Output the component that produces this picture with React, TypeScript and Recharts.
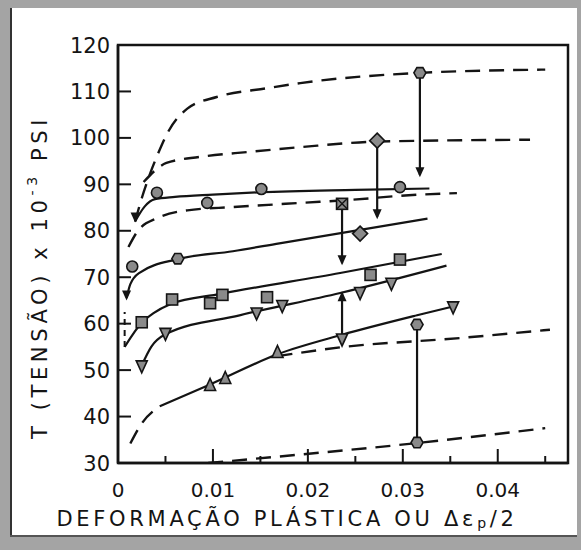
import React from "react";
import { ComposedChart, Line, Scatter, XAxis, YAxis, ReferenceArea } from "recharts";

type Pt = { x: number; y: number };

const xTicks = [0, 0.005, 0.01, 0.015, 0.02, 0.025, 0.03, 0.035, 0.04, 0.045];
const yTicks = [30, 40, 50, 60, 70, 80, 90, 100, 110, 120];

// curves (monotonic = dashed, cyclic = solid)
const topDashed: Pt[] = [
  { x: 0.0018, y: 82 }, { x: 0.0025, y: 87 }, { x: 0.0034, y: 92.4 }, { x: 0.0043, y: 97 },
  { x: 0.0052, y: 101 }, { x: 0.0073, y: 106.3 }, { x: 0.0104, y: 108.8 }, { x: 0.0157, y: 110.7 },
  { x: 0.0192, y: 111.8 }, { x: 0.0318, y: 114 }, { x: 0.045, y: 114.7 },
];
const secondDashed: Pt[] = [
  { x: 0.0027, y: 90.5 }, { x: 0.0051, y: 94.6 }, { x: 0.0086, y: 95.9 }, { x: 0.0139, y: 97 },
  { x: 0.0192, y: 98 }, { x: 0.0273, y: 99.2 }, { x: 0.0434, y: 99.6 },
];
const circleSolid: Pt[] = [
  { x: 0.0018, y: 82 }, { x: 0.0028, y: 85.2 }, { x: 0.0039, y: 86.8 }, { x: 0.006, y: 87.3 },
  { x: 0.01, y: 87.8 }, { x: 0.015, y: 88.3 }, { x: 0.025, y: 88.8 }, { x: 0.0328, y: 89.1 },
];
const thirdDashed: Pt[] = [
  { x: 0.0011, y: 76.5 }, { x: 0.0021, y: 80 }, { x: 0.0041, y: 82.7 }, { x: 0.0073, y: 84.4 },
  { x: 0.0121, y: 85.1 }, { x: 0.0192, y: 86 }, { x: 0.0241, y: 86.6 }, { x: 0.031, y: 87.7 },
  { x: 0.0357, y: 88.1 },
];
const hexSolid: Pt[] = [
  { x: 0.0009, y: 65.5 }, { x: 0.0013, y: 68.5 }, { x: 0.0023, y: 71 }, { x: 0.0063, y: 73.9 },
  { x: 0.0121, y: 75.6 }, { x: 0.017, y: 77.3 }, { x: 0.0326, y: 82.6 },
];
const squareSolid: Pt[] = [
  { x: 0.0007, y: 55 }, { x: 0.0025, y: 60.2 }, { x: 0.0037, y: 62.2 }, { x: 0.0055, y: 64.2 },
  { x: 0.0108, y: 66.4 }, { x: 0.0234, y: 70.9 }, { x: 0.0341, y: 75 },
];
const downSolid: Pt[] = [
  { x: 0.0025, y: 51 }, { x: 0.0035, y: 55 }, { x: 0.005, y: 57.7 }, { x: 0.0128, y: 61.8 },
  { x: 0.0234, y: 66.6 }, { x: 0.0346, y: 72.5 },
];
const upDashedStart: Pt[] = [{ x: 0.0013, y: 34.2 }, { x: 0.0025, y: 38.5 }, { x: 0.0044, y: 42.2 }];
const upSolid: Pt[] = [
  { x: 0.0044, y: 42.2 }, { x: 0.0097, y: 46.9 }, { x: 0.0168, y: 53.4 }, { x: 0.0236, y: 57.6 },
  { x: 0.0315, y: 61.8 }, { x: 0.0353, y: 63.7 },
];
const fourthDashed: Pt[] = [{ x: 0.0168, y: 53 }, { x: 0.0234, y: 54.9 }, { x: 0.036, y: 56.9 }, { x: 0.0455, y: 58.7 }];
const bottomDashed: Pt[] = [{ x: 0.0095, y: 30 }, { x: 0.017, y: 31.4 }, { x: 0.0315, y: 34.3 }, { x: 0.045, y: 37.5 }];
const originDash: Pt[] = [{ x: 0.0007, y: 55 }, { x: 0.0007, y: 62.5 }];

// vertical transition lines
const verticals: Pt[][] = [
  [{ x: 0.0318, y: 114 }, { x: 0.0318, y: 92 }],
  [{ x: 0.0273, y: 99.2 }, { x: 0.0273, y: 83 }],
  [{ x: 0.0236, y: 85.8 }, { x: 0.0236, y: 73 }],
  [{ x: 0.0236, y: 56.6 }, { x: 0.0236, y: 66.5 }],
  [{ x: 0.0315, y: 34.3 }, { x: 0.0315, y: 60 }],
];

// markers
const circles: Pt[] = [
  { x: 0.0015, y: 72.3 }, { x: 0.0041, y: 88.2 }, { x: 0.0094, y: 86 }, { x: 0.0151, y: 89 }, { x: 0.0297, y: 89.4 },
];
const hexes: Pt[] = [{ x: 0.0063, y: 74 }, { x: 0.0318, y: 114 }, { x: 0.0315, y: 59.8 }, { x: 0.0315, y: 34.4 }];
const diamonds: Pt[] = [{ x: 0.0273, y: 99.4 }, { x: 0.0255, y: 79.4 }];
const squares: Pt[] = [
  { x: 0.0025, y: 60.3 }, { x: 0.0057, y: 65.2 }, { x: 0.0097, y: 64.4 }, { x: 0.011, y: 66.2 },
  { x: 0.0157, y: 65.7 }, { x: 0.0266, y: 70.5 }, { x: 0.0297, y: 73.8 },
];
const crossSquares: Pt[] = [{ x: 0.0236, y: 85.8 }];
const downTris: Pt[] = [
  { x: 0.0025, y: 50.8 }, { x: 0.005, y: 57.8 }, { x: 0.0146, y: 62.2 }, { x: 0.0173, y: 63.8 },
  { x: 0.0255, y: 66.6 }, { x: 0.0288, y: 68.6 }, { x: 0.0353, y: 63.5 }, { x: 0.0236, y: 56.6 },
];
const upTris: Pt[] = [{ x: 0.0097, y: 46.8 }, { x: 0.0113, y: 48.3 }, { x: 0.0168, y: 53.9 }];
const arrowsDown: Pt[] = [
  { x: 0.0318, y: 91.5 }, { x: 0.0273, y: 82.5 }, { x: 0.0236, y: 72.6 }, { x: 0.0018, y: 81.8 }, { x: 0.0009, y: 65 },
];
const arrowsUp: Pt[] = [{ x: 0.0236, y: 67 }];

const ink = "#141414";
const font = "'DejaVu Sans', sans-serif";

function Marker({ cx, cy, kind }: { cx: number; cy: number; kind: string }) {
  const s = 5.5;
  const c = { fill: "#8a8a8a", stroke: ink, strokeWidth: 1.6 };
  if (kind === "circle") return <circle cx={cx} cy={cy} r={s} {...c} />;
  if (kind === "square") return <rect x={cx - s} y={cy - s} width={2 * s} height={2 * s} {...c} />;
  if (kind === "xsq")
    return (
      <g>
        <rect x={cx - s} y={cy - s} width={2 * s} height={2 * s} {...c} />
        <path d={`M${cx - s},${cy - s}L${cx + s},${cy + s}M${cx + s},${cy - s}L${cx - s},${cy + s}`} stroke={ink} strokeWidth={1.4} />
      </g>
    );
  if (kind === "diamond") {
    const d = s + 2;
    return <polygon points={`${cx},${cy - d} ${cx + d},${cy} ${cx},${cy + d} ${cx - d},${cy}`} {...c} />;
  }
  if (kind === "hex") {
    const pts = [0, 1, 2, 3, 4, 5]
      .map((i) => {
        const a = (Math.PI / 3) * i;
        return `${cx + (s + 0.5) * Math.cos(a)},${cy + (s + 0.5) * Math.sin(a)}`;
      })
      .join(" ");
    return <polygon points={pts} {...c} />;
  }
  if (kind === "up") return <polygon points={`${cx},${cy - s - 1} ${cx + s},${cy + s} ${cx - s},${cy + s}`} {...c} />;
  if (kind === "down") return <polygon points={`${cx - s},${cy - s} ${cx + s},${cy - s} ${cx},${cy + s + 1}`} {...c} />;
  if (kind === "arrowDown") return <polygon points={`${cx},${cy} ${cx - 4.5},${cy - 10} ${cx + 4.5},${cy - 10}`} fill={ink} />;
  if (kind === "arrowUp") return <polygon points={`${cx},${cy} ${cx - 4.5},${cy + 10} ${cx + 4.5},${cy + 10}`} fill={ink} />;
  return null;
}

const mk = (kind: string) => (p: any) => <Marker cx={p.cx} cy={p.cy} kind={kind} />;

function XTick(props: any) {
  const { x, y, payload } = props;
  const v: number = payload.value;
  const major = Math.round(v * 1000) % 10 === 0;
  return (
    <g>
      {v > 0 && <line x1={x} x2={x} y1={y} y2={y - (major ? 14 : 7)} stroke={ink} strokeWidth={2} />}
      {major && (
        <text x={x} y={y + 34} textAnchor="middle" fontSize={20} fontFamily={font} fill={ink}>
          {v === 0 ? "0" : v.toFixed(2)}
        </text>
      )}
    </g>
  );
}

function YTick(props: any) {
  const { x, y, payload } = props;
  const v: number = payload.value;
  return (
    <g>
      {v > 30 && v < 120 && <line x1={x + 8} x2={x + 21} y1={y} y2={y} stroke={ink} strokeWidth={2} />}
      <text x={x} y={y} dy="0.36em" textAnchor="end" fontSize={21} fontFamily={font} fill={ink}>
        {v}
      </text>
    </g>
  );
}

function YLabel(props: any) {
  const vb = props.viewBox || { x: 58, y: 45, width: 60, height: 418 };
  const cx = vb.x - 18;
  const cy = vb.y + vb.height * 0.555;
  return (
    <text
      x={cx}
      y={cy}
      transform={`rotate(-90 ${cx} ${cy})`}
      textAnchor="middle"
      dominantBaseline="central"
      fontSize={21}
      fontFamily={font}
      letterSpacing={4.6}
      fill={ink}
    >
      T (TENSÃO) x 10
      <tspan fontSize={14} dy={-8}>-3</tspan>
      <tspan dy={8}> PSI</tspan>
    </text>
  );
}

function XLabel(props: any) {
  const vb = props.viewBox || { x: 118, y: 463, width: 450, height: 70 };
  const cx = vb.x + 169;
  const cy = vb.y + 63;
  return (
    <text x={cx} y={cy} textAnchor="middle" fontSize={21} fontFamily={font} letterSpacing={3.7} fill={ink}>
      DEFORMAÇÃO PLÁSTICA OU Δε
      <tspan fontSize={14} dy={2}>p</tspan>
      <tspan dy={-2}>/2</tspan>
    </text>
  );
}

const dashed = (data: Pt[], key: string) => (
  <Line
    key={key}
    data={data}
    dataKey="y"
    type="monotone"
    stroke={ink}
    strokeWidth={2.4}
    strokeDasharray="15 9"
    dot={false}
    isAnimationActive={false}
  />
);
const solid = (data: Pt[], key: string, type: "monotone" | "linear" = "monotone") => (
  <Line key={key} data={data} dataKey="y" type={type} stroke={ink} strokeWidth={2.2} dot={false} isAnimationActive={false} />
);

export default function App() {
  return (
    <div style={{ position: "absolute", left: 0, top: 0, width: 581, height: 550, background: "#fff" }}>
      <div
        style={{
          position: "absolute",
          inset: 0,
          borderStyle: "solid",
          borderColor: "#a4a4a4",
          borderWidth: "8px 4px 13px 10px",
        }}
      />
      <div style={{ position: "absolute", left: 10, top: 8, bottom: 13, width: 2, background: "#333" }} />
      <div style={{ position: "absolute", left: 10, right: 4, bottom: 13, height: 2, background: "#555" }} />
      <ComposedChart
        width={581}
        height={550}
        margin={{ top: 45, right: 13, bottom: 17, left: 58 }}
        style={{ position: "absolute", left: 0, top: 0 }}
      >
        <XAxis
          type="number"
          dataKey="x"
          domain={[0, 0.0474]}
          ticks={xTicks}
          allowDataOverflow
          height={70}
          tickSize={0}
          tickMargin={0}
          tickLine={false}
          axisLine={{ stroke: ink, strokeWidth: 2.5 }}
          tick={<XTick />}
          label={<XLabel />}
        />
        <YAxis
          type="number"
          dataKey="y"
          domain={[30, 120]}
          ticks={yTicks}
          allowDataOverflow
          width={60}
          tickSize={0}
          tickMargin={8}
          tickLine={false}
          axisLine={{ stroke: ink, strokeWidth: 2.5 }}
          tick={<YTick />}
          label={<YLabel />}
        />
        <ReferenceArea x1={0} x2={0.0474} y1={30} y2={120} fill="none" stroke={ink} strokeWidth={2.5} />
        {dashed(topDashed, "d1")}
        {dashed(secondDashed, "d2")}
        {dashed(thirdDashed, "d3")}
        {dashed(fourthDashed, "d4")}
        {dashed(bottomDashed, "d5")}
        {dashed(upDashedStart, "d6")}
        <Line data={originDash} dataKey="y" type="linear" stroke={ink} strokeWidth={2} strokeDasharray="6 5" dot={false} isAnimationActive={false} />
        {solid(circleSolid, "s1")}
        {solid(hexSolid, "s2")}
        {solid(squareSolid, "s3")}
        {solid(downSolid, "s4")}
        {solid(upSolid, "s5")}
        {verticals.map((v, i) => solid(v, "v" + i, "linear"))}
        <Scatter data={circles} shape={mk("circle")} isAnimationActive={false} />
        <Scatter data={hexes} shape={mk("hex")} isAnimationActive={false} />
        <Scatter data={diamonds} shape={mk("diamond")} isAnimationActive={false} />
        <Scatter data={squares} shape={mk("square")} isAnimationActive={false} />
        <Scatter data={crossSquares} shape={mk("xsq")} isAnimationActive={false} />
        <Scatter data={downTris} shape={mk("down")} isAnimationActive={false} />
        <Scatter data={upTris} shape={mk("up")} isAnimationActive={false} />
        <Scatter data={arrowsDown} shape={mk("arrowDown")} isAnimationActive={false} />
        <Scatter data={arrowsUp} shape={mk("arrowUp")} isAnimationActive={false} />
      </ComposedChart>
    </div>
  );
}
